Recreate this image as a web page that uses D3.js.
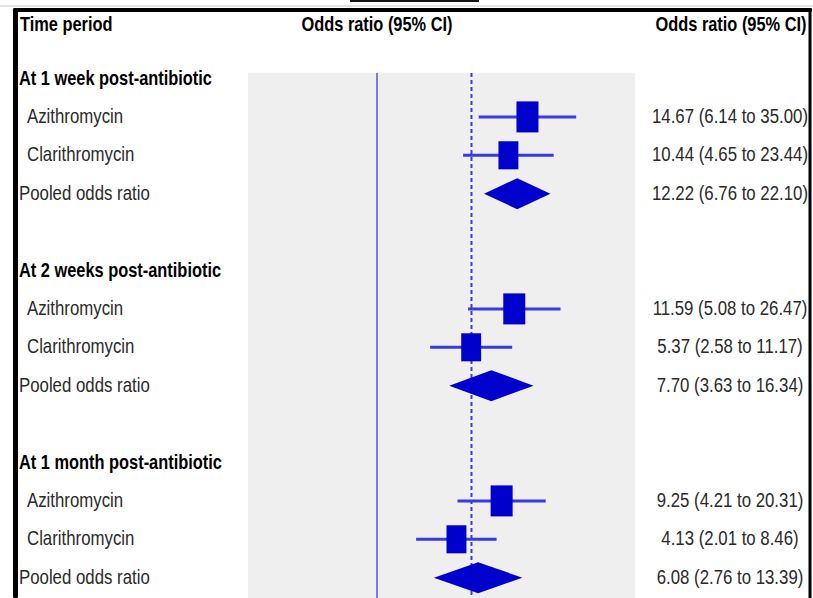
<!DOCTYPE html>
<html>
<head>
<meta charset="utf-8">
<script src="https://cdn.jsdelivr.net/npm/d3@7"></script>
<style>
  html, body { margin: 0; padding: 0; background: #fff; }
  svg { display: block; }
  text { font-family: "Liberation Sans", Arial, sans-serif; }
</style>
</head>
<body>
<svg id="chart" width="813" height="598"></svg>
<script>
// ---------- data ----------
const groups = ["At 1 week post-antibiotic", "At 2 weeks post-antibiotic", "At 1 month post-antibiotic"];
const drugs = ["Azithromycin", "Clarithromycin"];
const pooledLabel = "Pooled odds ratio";
const oddsRatio = [[14.67, 10.44, 12.22], [11.59, 5.37, 7.70], [9.25, 4.13, 6.08]];
const ciLow     = [[6.14, 4.65, 6.76],   [5.08, 2.58, 3.63],  [4.21, 2.01, 2.76]];
const ciHigh    = [[35.00, 23.44, 22.10],[26.47, 11.17, 16.34],[20.31, 8.46, 13.39]];
const weights   = [[55, 45], [55, 45], [55, 45]];
const nullValue = 1;
const overallValue = 5.4;
const axisDomain = [0.1, 100];
const headerLeft = "Time period";
const headerMid = "Odds ratio (95% CI)";
const headerRight = "Odds ratio (95% CI)";

// ---------- layout ----------
const svg = d3.select("#chart");
const x = d3.scaleLog().domain(axisDomain).range([248, 635]);
const rowY = i => 78.5 + 38.4 * i;
const boxSize = d3.scaleSqrt().domain([0, 55]).range([0, 22]);
const markColor = "#0000cc";
const lineColor = "#3a3ae0";
const narrow = 0.82;
const tf = (px, py) => `translate(${px},${py}) scale(${narrow},1)`;

// build rows
const rows = [];
groups.forEach((g, gi) => {
  const base = gi * 5;
  rows.push({ type: "heading", label: g, i: base });
  drugs.forEach((d, di) => {
    rows.push({ type: "study", label: d, i: base + 1 + di,
      or: oddsRatio[gi][di], lo: ciLow[gi][di], hi: ciHigh[gi][di], w: weights[gi][di] });
  });
  rows.push({ type: "pooled", label: pooledLabel, i: base + 3,
    or: oddsRatio[gi][2], lo: ciLow[gi][2], hi: ciHigh[gi][2] });
});

// decorative top remnants
svg.append("rect").attr("x", 350).attr("y", 0).attr("width", 129).attr("height", 2).attr("fill", "#111");
svg.append("rect").attr("x", 0).attr("y", 5.5).attr("width", 813).attr("height", 1).attr("fill", "#c8c8c8");

// grey panel
svg.append("rect").attr("x", x(axisDomain[0])).attr("y", 73)
  .attr("width", x(axisDomain[1]) - x(axisDomain[0])).attr("height", 598 - 73)
  .attr("fill", "#efefef");

// reference lines
svg.append("line").attr("x1", x(nullValue)).attr("x2", x(nullValue)).attr("y1", 73).attr("y2", 598)
  .attr("stroke", "#5c5cec").attr("stroke-width", 1.6);
svg.append("line").attr("x1", x(overallValue)).attr("x2", x(overallValue)).attr("y1", 73).attr("y2", 598)
  .attr("stroke", "#3a3ae0").attr("stroke-width", 2).attr("stroke-dasharray", "4,3");

// CI lines
const studies = rows.filter(r => r.type === "study");
svg.selectAll("line.ci").data(studies).join("line").attr("class", "ci")
  .attr("x1", d => x(d.lo)).attr("x2", d => x(d.hi))
  .attr("y1", d => rowY(d.i)).attr("y2", d => rowY(d.i))
  .attr("stroke", lineColor).attr("stroke-width", 3);

// boxes
svg.selectAll("rect.box").data(studies).join("rect").attr("class", "box")
  .attr("x", d => x(d.or) - boxSize(d.w) / 2)
  .attr("y", d => rowY(d.i) - boxSize(d.w) * 1.41 / 2)
  .attr("width", d => boxSize(d.w))
  .attr("height", d => boxSize(d.w) * 1.41)
  .attr("fill", markColor);

// diamonds
const pooled = rows.filter(r => r.type === "pooled");
svg.selectAll("path.diamond").data(pooled).join("path").attr("class", "diamond")
  .attr("d", d => {
    const y = rowY(d.i), h = 15.5;
    return `M${x(d.lo)},${y}L${x(d.or)},${y - h}L${x(d.hi)},${y}L${x(d.or)},${y + h}Z`;
  })
  .attr("fill", markColor);

// left labels
svg.selectAll("text.lab").data(rows).join("text").attr("class", "lab")
  .attr("transform", d => tf(d.type === "study" ? 27 : 19, rowY(d.i) + 6))
  .attr("font-size", d => d.type === "heading" ? 20 : 20.5)
  .attr("font-weight", d => d.type === "heading" ? "bold" : "normal")
  .attr("fill", d => d.type === "heading" ? "#000" : "#2a2a2a")
  .text(d => d.label);

// right values
const valueRows = rows.filter(r => r.type !== "heading");
svg.selectAll("text.val").data(valueRows).join("text").attr("class", "val")
  .attr("transform", d => tf(730, rowY(d.i) + 6))
  .attr("text-anchor", "middle").attr("font-size", 20.5).attr("fill", "#2a2a2a")
  .text(d => `${d.or.toFixed(2)} (${d.lo.toFixed(2)} to ${d.hi.toFixed(2)})`);

// headers
svg.append("text").attr("transform", tf(20, 31)).attr("font-size", 20).attr("font-weight", "bold").text(headerLeft);
svg.append("text").attr("transform", tf(x(nullValue), 31)).attr("text-anchor", "middle")
  .attr("font-size", 20).attr("font-weight", "bold").text(headerMid);
svg.append("text").attr("transform", tf(731, 31)).attr("text-anchor", "middle")
  .attr("font-size", 20).attr("font-weight", "bold").text(headerRight);

// frame
svg.append("rect").attr("x", 13).attr("y", 8).attr("width", 799).attr("height", 4).attr("rx", 1.5).attr("fill", "#000");
svg.append("rect").attr("x", 13).attr("y", 8).attr("width", 5).attr("height", 590).attr("rx", 1.5).attr("fill", "#000");
svg.append("rect").attr("x", 808.5).attr("y", 8).attr("width", 3).attr("height", 590).attr("fill", "#000");
</script>
</body>
</html>
